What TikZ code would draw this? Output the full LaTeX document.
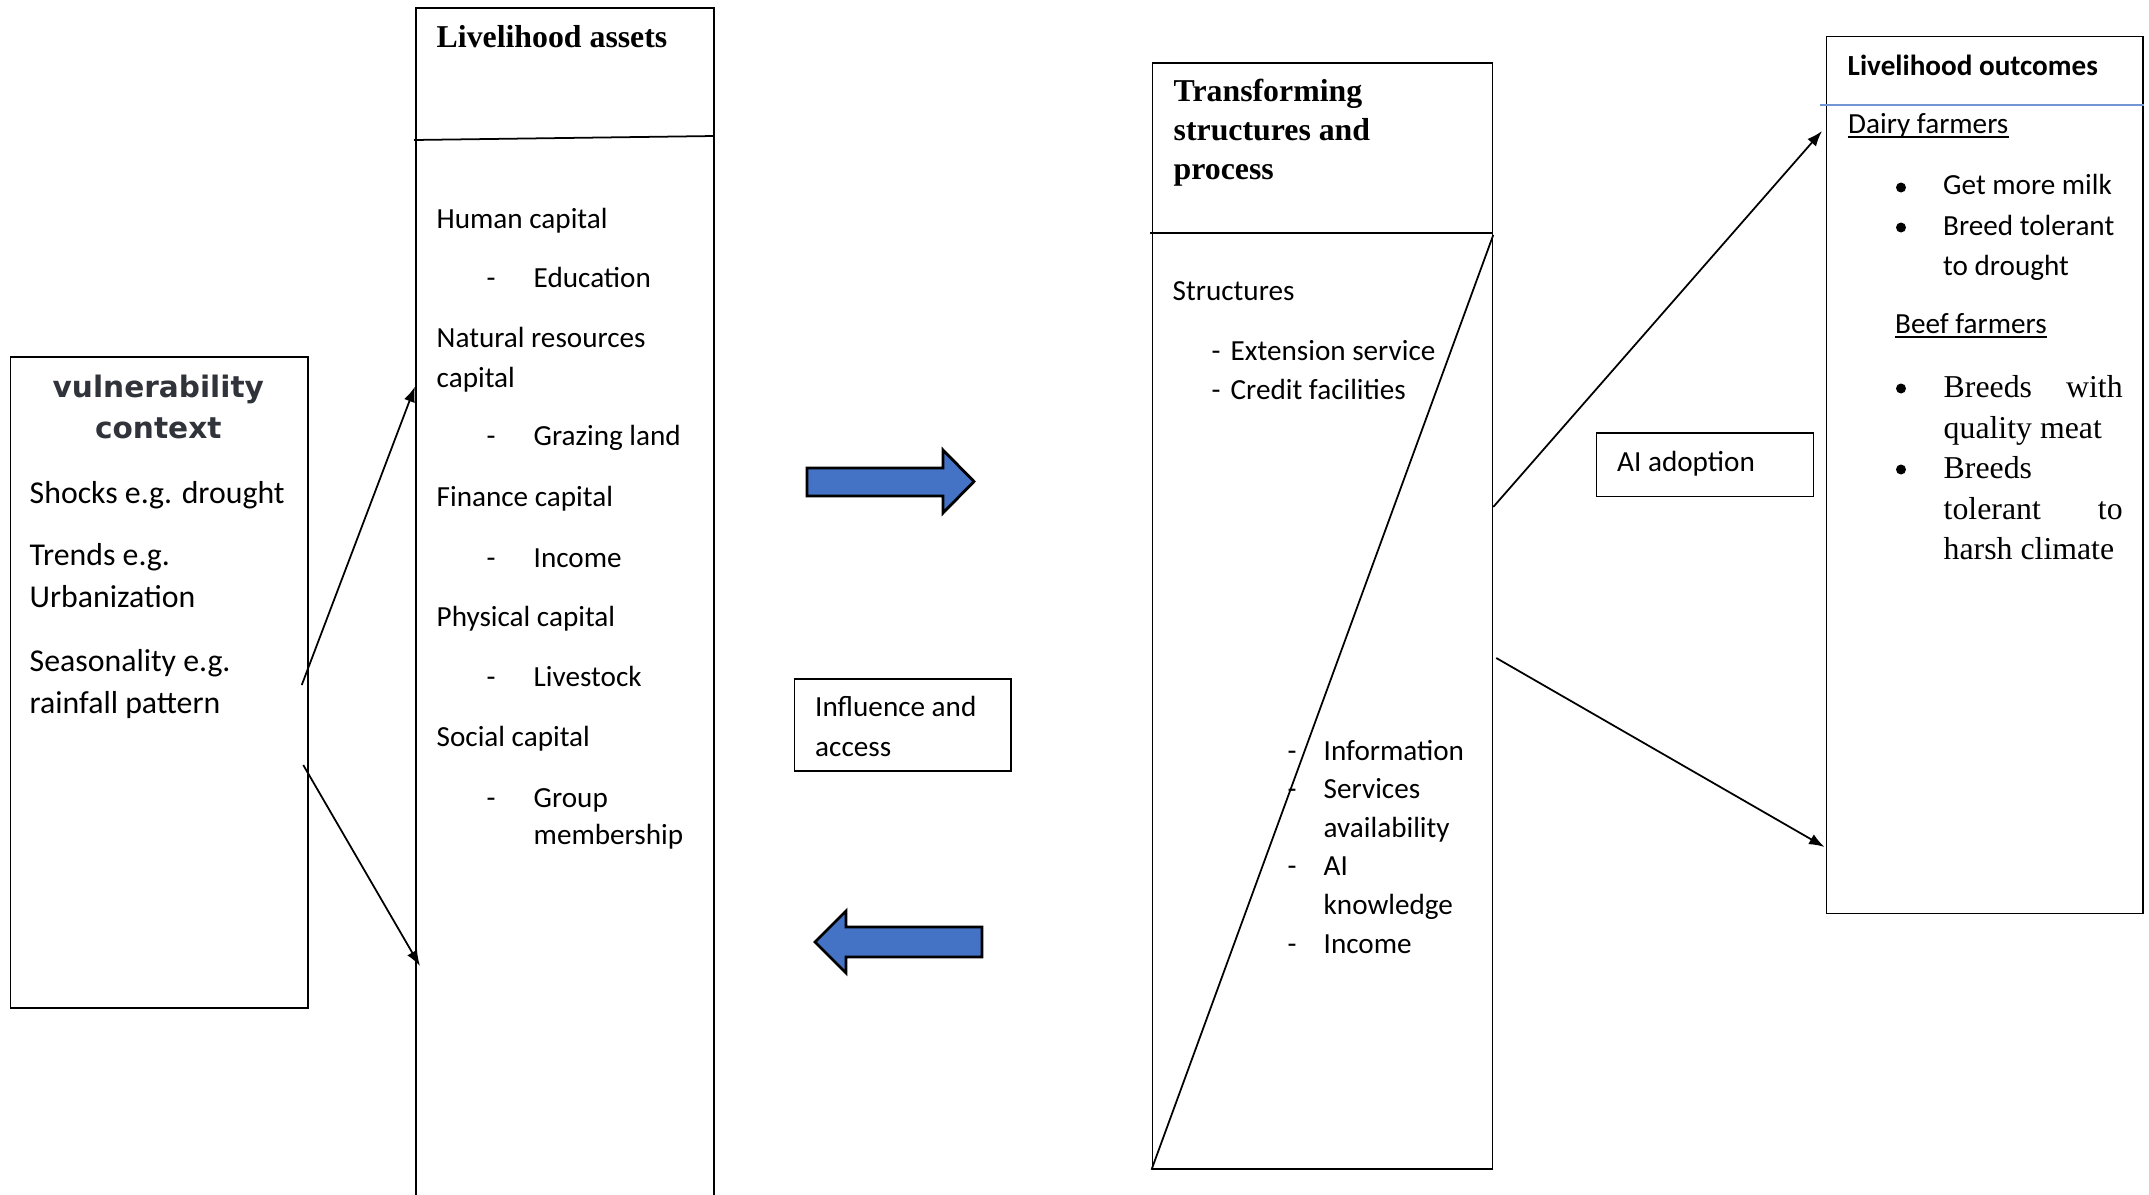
\documentclass[tikz,border=0pt]{standalone}
\usepackage{fontspec}
\setmainfont{Carlito}
\newfontfamily\timesfont{Liberation Serif}
\newfontfamily\vulnfont{DejaVu Sans}
\usetikzlibrary{arrows.meta}
\usetikzlibrary{calc}
\definecolor{arrowBlue}{RGB}{68,114,196}
\definecolor{lineBlue}{RGB}{114,150,212}
\definecolor{titleGray}{RGB}{48,52,58}
\tikzstyle{thinLine}=[line width=.5pt]
\tikzstyle{Box}=[thinLine,draw,inner sep=0pt,anchor=north west]
\tikzstyle{Arrow}=[>={Latex[length=4.4pt,width=3.2pt]},thinLine,->]
\tikzstyle{BigArrow}=[line width=.8pt,fill=arrowBlue,line join=miter]
\tikzstyle{Txt}=[inner sep=0pt,anchor=base west,font=\fontsize{8.3}{10}\selectfont]
\tikzstyle{BigTxt}=[Txt,font=\fontsize{9.05}{11}\selectfont]
\tikzstyle{Head}=[Txt,font=\timesfont\bfseries\fontsize{9.05}{11}\selectfont]
\tikzstyle{Serif}=[Txt,font=\timesfont\fontsize{9.05}{11}\selectfont]
\tikzstyle{VulnTitle}=[Txt,anchor=base,font=\vulnfont\bfseries\fontsize{8.42}{10}\selectfont,text=titleGray]
\tikzstyle{Dot}=[circle,fill=black,inner sep=0pt,minimum size=.1cm]
\newcommand{\dashItem}[2]{\makebox[#1][l]{-}#2}

\begin{document}
\begin{tikzpicture}

  \useasboundingbox (0,0) rectangle (21.49,-11.95);
  \clip (0,0) rectangle (21.49,-11.95);

  % Boxes
  % -----
  \node[Box,minimum width=2.974cm,minimum height=6.51cm] (vuln) at (0.096,-3.563) {};
  \node[Box,minimum width=2.98cm,minimum height=12.4cm] (assets) at (4.15,-0.075) {};
  \node[Box,minimum width=2.165cm,minimum height=0.92cm] (infl) at (7.935,-6.78) {};
  \node[Box,minimum width=3.40cm,minimum height=11.06cm] (trans) at (11.515,-0.62) {};
  \node[Box,minimum width=2.17cm,minimum height=0.635cm] (adopt) at (15.955,-4.32) {};
  \node[Box,minimum width=3.165cm,minimum height=8.77cm] (outc) at (18.255,-0.356) {};

  % Dividers
  \draw[thinLine] (4.14,-1.40)--(assets.east |- 0,-1.36);
  \draw[thinLine] (11.50,-2.33)--(trans.east |- 0,-2.33);
  \draw[thinLine] (trans.south west)--(trans.east |- 0,-2.35);
  \draw[lineBlue,line width=.6pt] (18.20,-1.05)--(outc.east |- 0,-1.05);

  % Vulnerability context
  \node[VulnTitle] (vulnT1) at (1.583,-3.975) {vulnerability};
  \node[VulnTitle] (vulnT2) at (1.583,-4.385) {context};
  \node[BigTxt] (shocks) at (0.29,-5.03) {Shocks e.g. drought};
  \node[BigTxt] (trends) at (0.29,-5.65) {Trends e.g.};
  \node[BigTxt] (urban) at (0.29,-6.075) {Urbanization};
  \node[BigTxt] (season) at (0.29,-6.71) {Seasonality e.g.};
  \node[BigTxt] (rain) at (0.29,-7.13) {rainfall pattern};

  % Livelihood assets
  \node[Head] (assetsT) at (4.36,-0.48) {Livelihood assets};
  \node[Txt] (human) at (4.36,-2.28) {Human capital};
  \node[Txt] (edu) at (4.86,-2.87) {\dashItem{.47cm}{Education}};
  \node[Txt] (natural) at (4.36,-3.47) {Natural resources};
  \node[Txt] (natural2) at (4.36,-3.87) {capital};
  \node[Txt] (grazing) at (4.86,-4.45) {\dashItem{.47cm}{Grazing land}};
  \node[Txt] (finance) at (4.36,-5.06) {Finance capital};
  \node[Txt] (income) at (4.86,-5.67) {\dashItem{.47cm}{Income}};
  \node[Txt] (physical) at (4.36,-6.26) {Physical capital};
  \node[Txt] (livestock) at (4.86,-6.86) {\dashItem{.47cm}{Livestock}};
  \node[Txt] (social) at (4.36,-7.46) {Social capital};
  \node[Txt] (group) at (4.86,-8.07) {\dashItem{.47cm}{Group}};
  \node[Txt] (member) at (5.33,-8.445) {membership};

  % Influence and access
  \draw[BigArrow] (8.07,-4.68)--(9.43,-4.68)--(9.43,-4.50)--(9.74,-4.815)--(9.43,-5.13)--(9.43,-4.96)--(8.07,-4.96)--cycle;
  \draw[BigArrow] (9.82,-9.27)--(8.46,-9.27)--(8.46,-9.11)--(8.15,-9.42)--(8.46,-9.73)--(8.46,-9.57)--(9.82,-9.57)--cycle;
  \node[Txt] (inflA) at (8.145,-7.165) {Influence and};
  \node[Txt] (inflB) at (8.145,-7.565) {access};

  % Transforming structures
  \node[Head] (transT1) at (11.73,-1.015) {Transforming};
  \node[Head] (transT2) at (11.73,-1.405) {structures and};
  \node[Head] (transT3) at (11.73,-1.795) {process};
  \node[Txt] (struct) at (11.72,-3.005) {Structures};
  \node[Txt] (ext) at (12.11,-3.605) {\dashItem{.19cm}{Extension service}};
  \node[Txt] (credit) at (12.11,-3.995) {\dashItem{.19cm}{Credit facilities}};
  \node[Txt] (info) at (12.87,-7.60) {\dashItem{.36cm}{Information}};
  \node[Txt] (serv) at (12.87,-7.985) {\dashItem{.36cm}{Services}};
  \node[Txt] (avail) at (13.23,-8.37) {availability};
  \node[Txt] (know1) at (12.87,-8.755) {\dashItem{.36cm}{AI}};
  \node[Txt] (know2) at (13.23,-9.145) {knowledge};
  \node[Txt] (inc) at (12.87,-9.53) {\dashItem{.36cm}{Income}};

  % AI adoption
  \node[Txt] (adoptT) at (16.165,-4.71) {AI adoption};

  % Livelihood outcomes
  \node[Txt,font=\bfseries\fontsize{8.3}{10}\selectfont] (outT) at (18.47,-0.755) {Livelihood outcomes};
  \node[Txt] (dairy) at (18.475,-1.335) {Dairy farmers};
  \draw[line width=.55pt] ([yshift=-1pt]dairy.base west)--([yshift=-1pt]dairy.base east);
  \node[Dot] (dot1) at (19.01,-1.875) {};
  \node[Dot] (dot2) at (19.01,-2.275) {};
  \node[Txt] (milk) at (19.425,-1.95) {Get more milk};
  \node[Txt] (breed) at (19.425,-2.35) {Breed tolerant};
  \node[Txt] (drought) at (19.425,-2.75) {to drought};
  \node[Txt] (beef) at (18.945,-3.335) {Beef farmers};
  \draw[line width=.55pt] ([yshift=-1pt]beef.base west)--([yshift=-1pt]beef.base east);
  \node[Dot] (dot3) at (19.01,-3.885) {};
  \node[Dot] (dot4) at (19.01,-4.695) {};
  \node[Serif] (bw) at (19.43,-3.975) {\makebox[1.79cm][s]{Breeds\hfill with}};
  \node[Serif] (qm) at (19.43,-4.38) {quality meat};
  \node[Serif] (br) at (19.43,-4.785) {Breeds};
  \node[Serif] (tt) at (19.43,-5.19) {\makebox[1.79cm][s]{tolerant\hfill to}};
  \node[Serif] (hc) at (19.43,-5.595) {harsh climate};

  % Arrows
  \coordinate (v1) at ([xshift=-.07cm]vuln.east |- 0,-6.85);
  \coordinate (a1) at (assets.west |- 0,-3.865);
  \coordinate (v2) at ([xshift=-.055cm]vuln.east |- 0,-7.65);
  \coordinate (a2) at ([xshift=.05cm]assets.west |- 0,-9.66);
  \coordinate (t1) at (trans.east |- 0,-5.07);
  \coordinate (o1) at ([xshift=-.035cm]outc.west |- 0,-1.31);
  \coordinate (t2) at ([xshift=.03cm]trans.east |- 0,-6.58);
  \coordinate (o2) at ([xshift=-.01cm]outc.west |- 0,-8.47);
  \draw[Arrow] (v1)--(a1);
  \draw[Arrow] (v2)--(a2);
  \draw[Arrow] (t1)--(o1);
  \draw[Arrow] (t2)--(o2);

\end{tikzpicture}
\end{document}
